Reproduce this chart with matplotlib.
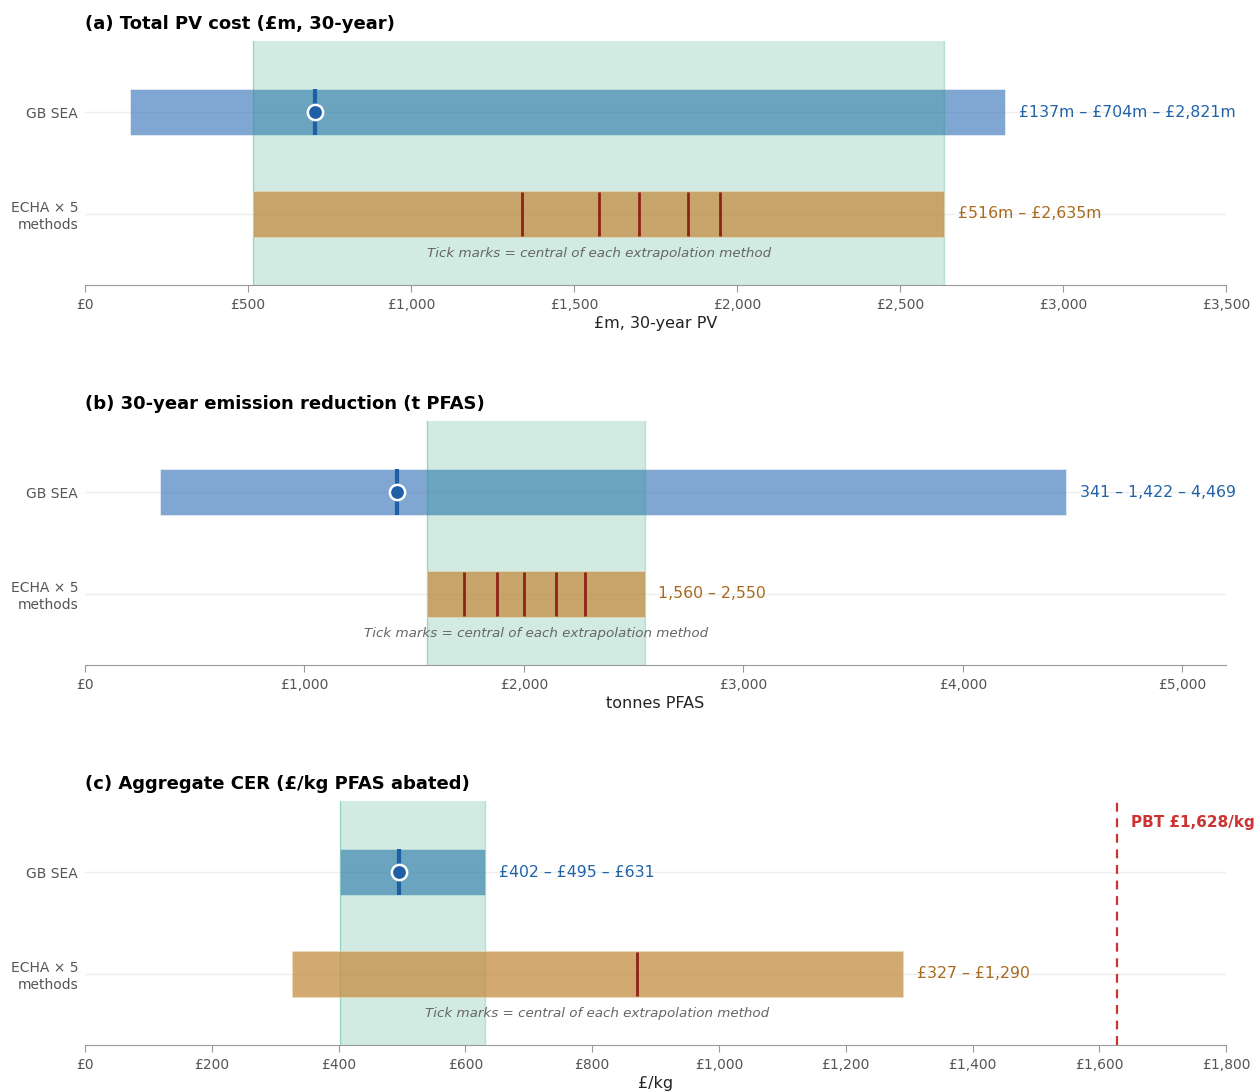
import matplotlib.pyplot as plt
from matplotlib.ticker import FuncFormatter

# panel titles / axis labels
titles = ["(a) Total PV cost (£m, 30-year)",
          "(b) 30-year emission reduction (t PFAS)",
          "(c) Aggregate CER (£/kg PFAS abated)"]
xlabels = ["£m, 30-year PV", "tonnes PFAS", "£/kg"]
xlims = [3500, 5200, 1800]
xsteps = [500, 1000, 200]
categories = ["ECHA × 5\nmethods", "GB SEA"]

# GB SEA low / central / high
sea_low = [137, 341, 402]
sea_mid = [704, 1422, 495]
sea_high = [2821, 4469, 631]
sea_labels = ["£137m – £704m – £2,821m", "341 – 1,422 – 4,469", "£402 – £495 – £631"]

# ECHA range over the five extrapolation methods, plus each method's central value
echa_low = [516, 1560, 327]
echa_high = [2635, 2550, 1290]
echa_centrals = [
    [1340, 1578, 1699, 1851, 1948],
    [1727, 1878, 1999, 2148, 2277],
    [870],
]
echa_labels = ["£516m – £2,635m", "1,560 – 2,550", "£327 – £1,290"]

pbt_threshold = 1628  # £/kg, panel (c) only

BLUE = "#4a80c0"
BLUE_DARK = "#1f5fa6"
BLUE_TXT = "#2263a8"
TAN = "#c48c40"
TAN_TXT = "#a86a1e"
TICK_RED = "#8c2414"
GREEN = "#1a9e77"
GREY = "#555555"

fig = plt.figure(figsize=(12.56, 10.92), dpi=100)
bottoms = [0.739, 0.391, 0.043]
bar_h = 0.45

for i in range(3):
    ax = fig.add_axes([0.0677, bottoms[i], 0.9085, 0.2234])
    y_sea, y_echa = 1, 0

    # light row guides
    for yy in (y_sea, y_echa):
        ax.axhline(yy, color="#eeeeee", lw=1, zorder=0)

    ax.barh(y_sea, sea_high[i] - sea_low[i], left=sea_low[i], height=bar_h,
            color=BLUE, alpha=0.7, edgecolor="white", linewidth=0.5, zorder=2)

    # overlap band of the two ranges
    lo = max(sea_low[i], echa_low[i])
    hi = min(sea_high[i], echa_high[i])
    ax.axvspan(lo, hi, facecolor=GREEN, alpha=0.2, edgecolor="none", zorder=3)
    for xx in (lo, hi):
        ax.axvline(xx, color=GREEN, alpha=0.3, lw=1, zorder=3)

    ax.barh(y_echa, echa_high[i] - echa_low[i], left=echa_low[i], height=bar_h,
            color=TAN, alpha=0.75, edgecolor="#f0e0c0", linewidth=0.5, zorder=4)

    # GB SEA central estimate
    ax.plot([sea_mid[i], sea_mid[i]], [y_sea - bar_h / 2, y_sea + bar_h / 2],
            color=BLUE_DARK, lw=3, zorder=5, solid_capstyle="butt")
    ax.plot(sea_mid[i], y_sea, "o", ms=11, color=BLUE_DARK, mec="white",
            mew=1.8, zorder=6)

    # ECHA per-method centrals
    for c in echa_centrals[i]:
        ax.plot([c, c], [y_echa - bar_h / 2 + 0.01, y_echa + bar_h / 2 - 0.01],
                color=TICK_RED, lw=2, zorder=5, solid_capstyle="butt")

    ax.annotate(sea_labels[i], (sea_high[i], y_sea), xytext=(10, 0),
                textcoords="offset points", va="center", ha="left",
                fontsize=11.3, color=BLUE_TXT)
    ax.annotate(echa_labels[i], (echa_high[i], y_echa), xytext=(10, 0),
                textcoords="offset points", va="center", ha="left",
                fontsize=11.3, color=TAN_TXT)
    ax.text((echa_low[i] + echa_high[i]) / 2, -0.39,
            "Tick marks = central of each extrapolation method",
            ha="center", va="center", fontsize=9.7, style="italic",
            color="#666666", zorder=7)

    if i == 2:
        ax.axvline(pbt_threshold, color="#cc3333", ls=(0, (4, 3)), lw=1.6, zorder=5)
        ax.annotate(f"PBT £{pbt_threshold:,}/kg", (pbt_threshold, 1.49),
                    xytext=(10, 0), textcoords="offset points", va="center",
                    ha="left", fontsize=11, fontweight="bold", color="#cc3333",
                    annotation_clip=False)

    ax.set_xlim(0, xlims[i])
    ax.set_ylim(-0.7, 1.7)
    ax.set_xticks(range(0, xlims[i] + 1, xsteps[i]))
    ax.xaxis.set_major_formatter(FuncFormatter(lambda v, p: f"£{int(v):,}"))
    ax.set_yticks([y_echa, y_sea])
    ax.set_yticklabels(categories)
    ax.tick_params(axis="y", length=0, labelsize=10, labelcolor=GREY, pad=5)
    ax.tick_params(axis="x", length=5, color="#999999", labelsize=10,
                   labelcolor=GREY, pad=4)
    for s in ("top", "right", "left"):
        ax.spines[s].set_visible(False)
    ax.spines["bottom"].set_color("#999999")
    ax.set_xlabel(xlabels[i], fontsize=11.5, color="#222222", labelpad=3)
    ax.set_title(titles[i], loc="left", fontsize=13, fontweight="bold", pad=9)

fig.savefig("out.png", dpi=100)
